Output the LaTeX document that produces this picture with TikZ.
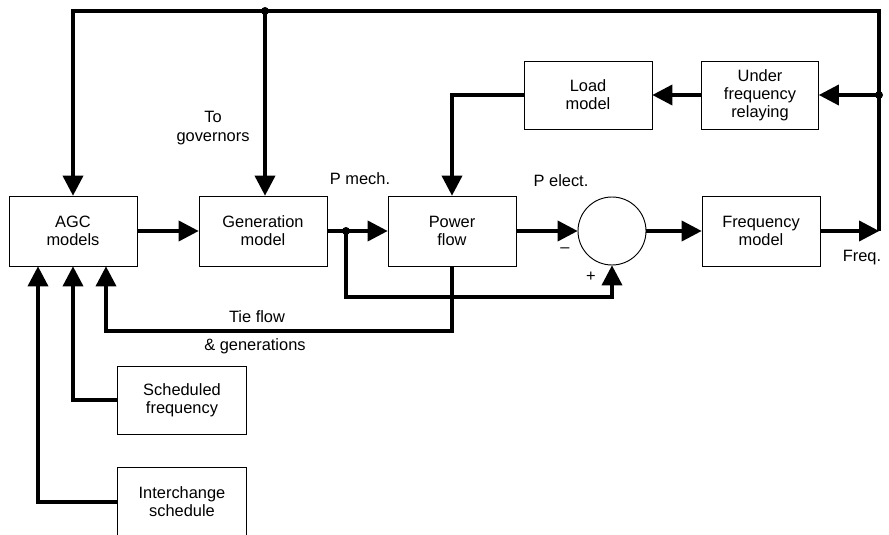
\documentclass[tikz,border=0pt]{standalone}
\usepackage{fontspec}
\setmainfont{Liberation Sans}
\usetikzlibrary{arrows.meta}

\begin{document}
\begin{tikzpicture}[x=0.03cm, y=-0.03cm,
    block/.style={draw, line width=0.8pt, minimum width=3.84cm, minimum height=2.1cm,
      align=center, inner sep=0pt, font=\fontsize{14}{15.5}\selectfont},
    sig/.style={line width=3.4pt, -{Triangle[length=17pt, width=18pt, line width=0pt]}},
    lbl/.style={align=center, inner sep=0pt, font=\fontsize{14}{15.5}\selectfont},
    dot/.style={circle, fill, inner sep=0pt, minimum size=0.24cm}]
    \clip (0,0) rectangle (889,535);

    % Blocks
    \node[block] (agc) at (73,231) {AGC\\models};
    \node[block] (gen) at (263,231) {Generation\\model};
    \node[block] (pflow) at (452,231) {Power\\flow};
    \node[draw, circle, line width=0.8pt, minimum size=2.04cm] (sum) at (612,231) {};
    \node[block, minimum width=3.54cm] (fmod) at (761,231) {Frequency\\model};
    \node[block, minimum height=2.04cm] (load) at (588,95) {Load\\model};
    \node[block, minimum width=3.51cm, minimum height=2.04cm] (ufr) at (760,95)
      {Under\\frequency\\relaying};
    \node[block, minimum width=3.87cm, minimum height=2.04cm] (sched) at (182,400)
      {Scheduled\\frequency};
    \node[block, minimum width=3.87cm] (inter) at (182,502) {Interchange\\schedule};

    % Corners and branch points
    \coordinate (fq) at (879,231);
    \coordinate (tr) at (879,11);
    \coordinate (tl) at (73,11);
    \coordinate (in1) at ([xshift=-1.05cm]agc.south);
    \coordinate (in3) at ([xshift=0.99cm]agc.south);
    \node[dot] (jtop) at (265,11) {};
    \node[dot] (jufr) at (879,95) {};
    \node[dot] (jmech) at (346,231) {};

    % Forward path
    \draw[sig] (agc.east) -- (gen.west);
    \draw[sig] (gen.east) -- (pflow.west);
    \draw[sig] (pflow.east) -- (sum.west);
    \draw[sig] (sum.east) -- (fmod.west);
    \draw[sig] (fmod.east) -- (fq);

    % Frequency feedback
    \draw[sig] (fq) -- (tr) -- (tl) -- (agc.north);
    \draw[sig] (jtop.center) -- (jtop.center |- gen.north);
    \draw[sig] (jufr.center) -- (ufr.east);
    \draw[sig] (ufr.west) -- (load.east);
    \draw[sig] (load.west) -| (pflow.north);

    % Mechanical power to the summing point
    \draw[sig] (jmech.center) -- ++(0,66) -| (sum.south);

    % Inputs to AGC
    \draw[sig] (pflow.south) -- ++(0,65) -| (in3);
    \draw[sig] (sched.west) -| (agc.south);
    \draw[sig] (inter.west) -| (in1);

    % Labels
    \node[lbl] (gov) at (213,128) {To\\governors};
    \node[lbl] (pmech) at (360,179) {P mech.};
    \node[lbl] (pelec) at (561,181) {P elect.};
    \node[lbl] (tie) at (257,317) {Tie flow};
    \node[lbl] (gens) at (255,346) {\& generations};
    \node[lbl] (minus) at (565,250) {--};
    \node[lbl] (plus) at (591,277) {+};
    \node[lbl] (freq) at (862,258) {Freq.};
\end{tikzpicture}
\end{document}
